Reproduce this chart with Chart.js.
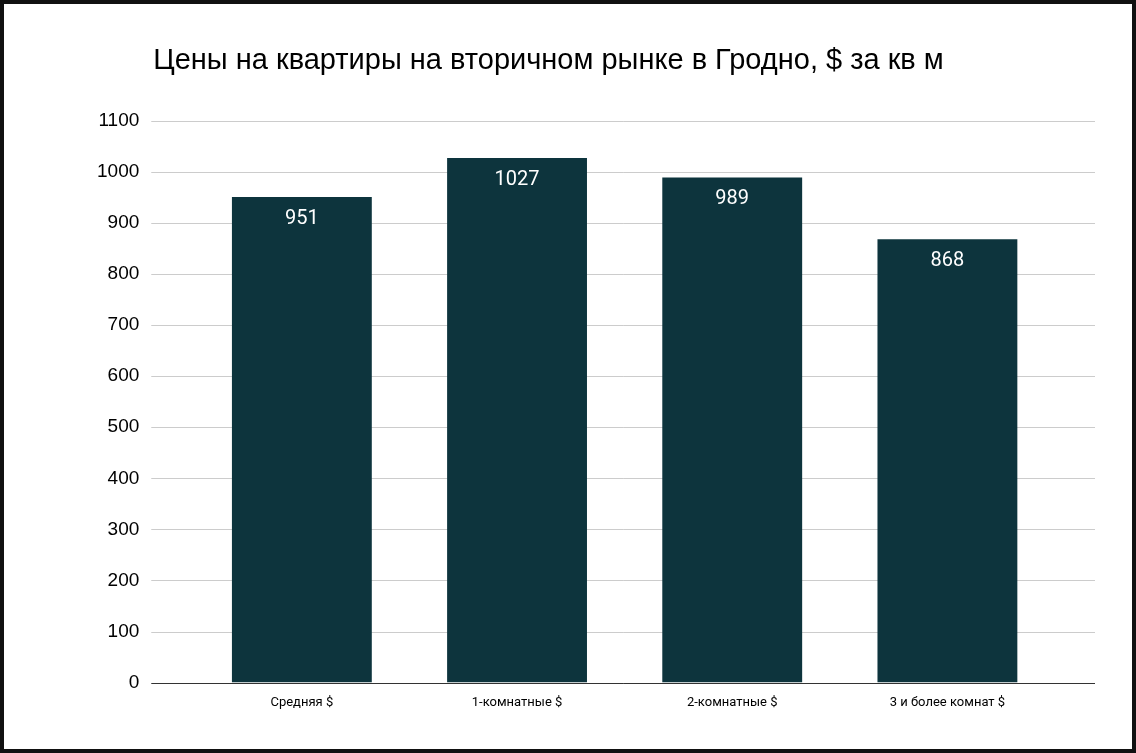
<!DOCTYPE html>
<html><head><meta charset="utf-8">
<script src="https://cdn.jsdelivr.net/npm/chart.js@4/dist/chart.umd.min.js"></script>
<style>
html,body{margin:0;padding:0;background:#fff;}
#frame{position:absolute;left:0;top:0;width:1128px;height:745px;border:4px solid #111;background:#fff;}
#wrap{position:absolute;left:0;top:0;width:1128px;height:745px;}
</style></head><body>
<div id="frame"><div id="wrap"><canvas id="c"></canvas></div></div>
<script>
const categories = ["Средняя $", "1-комнатные $", "2-комнатные $", "3 и более комнат $"];
const prices = [951, 1027, 989, 868];
const titleText = "Цены на квартиры на вторичном рынке в Гродно, $ за кв м";

const labelPlugin = {
  id: 'lbl',
  beforeDatasetsDraw(chart) {
    const ctx = chart.ctx, y = chart.scales.y, a = chart.chartArea;
    ctx.save();
    ctx.strokeStyle = '#ccc'; ctx.lineWidth = 1;
    y.ticks.forEach(t => {
      if (t.value === 0) return;
      const py = Math.round(y.getPixelForValue(t.value)) + 0.5;
      ctx.beginPath(); ctx.moveTo(a.left - 43, py); ctx.lineTo(a.right + 40, py); ctx.stroke();
    });
    const py0 = Math.round(y.getPixelForValue(0)) + 0.5;
    ctx.strokeStyle = '#333';
    ctx.beginPath(); ctx.moveTo(a.left - 43, py0); ctx.lineTo(a.right + 40, py0); ctx.stroke();
    ctx.restore();
  },
  afterDatasetsDraw(chart) {
    const ctx = chart.ctx;
    const meta = chart.getDatasetMeta(0);
    ctx.save();
    ctx.fillStyle = '#fff';
    ctx.font = '20px Roboto, "Noto Sans", sans-serif';
    ctx.textAlign = 'center';
    ctx.textBaseline = 'top';
    meta.data.forEach((bar, i) => {
      ctx.fillText(String(prices[i]), bar.x, bar.y + 12);
    });
    ctx.restore();
  }
};

new Chart(document.getElementById('c'), {
  type: 'bar',
  data: { labels: categories, datasets: [{ data: prices, backgroundColor: '#0d343d', barPercentage: 0.65, categoryPercentage: 1 }] },
  options: {
    responsive: true, maintainAspectRatio: false, animation: false,
    layout: { padding: { left: 38, right: 77, top: 40, bottom: 18 } },
    plugins: {
      legend: { display: false }, tooltip: { enabled: false },
      title: { display: true, text: titleText, color: '#000',
        font: { family: '"Liberation Sans", Arial, sans-serif', size: 29, weight: 'normal' },
        padding: { top: 0, bottom: 42 } }
    },
    scales: {
      x: { grid: { display: false, drawTicks: false }, border: { display: false },
        ticks: { color: '#000', font: { family: 'Roboto, sans-serif', size: 13 }, padding: 12 } },
      y: { min: 0, max: 1100, grid: { display: false, drawTicks: false }, border: { display: false },
        ticks: { stepSize: 100, color: '#000', font: { family: '"Liberation Sans", Arial, sans-serif', size: 19 }, padding: 55,
          callback: v => String(v) } }
    }
  },
  plugins: [labelPlugin]
});
</script></body></html>
